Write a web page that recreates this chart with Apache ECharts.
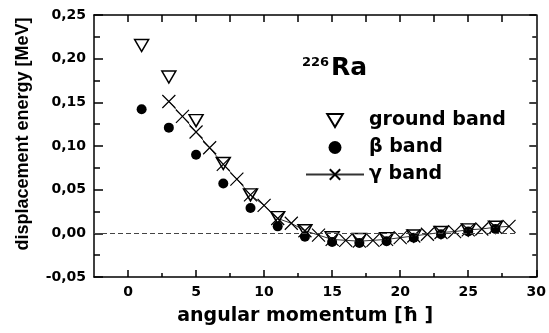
<!DOCTYPE html>
<html>
<head>
<meta charset="utf-8">
<script src="https://cdn.jsdelivr.net/npm/echarts@6/dist/echarts.min.js"></script>
<style>
  html, body { margin: 0; padding: 0; background: #fff; }
  #chart { width: 549px; height: 333px; }
</style>
</head>
<body>
<div id="chart"></div>
<script>
// angular momentum values for each band
const groundSpins = [1, 3, 5, 7, 9, 11, 13, 15, 17, 19, 21, 23, 25, 27]
const groundEnergy = [0.215, 0.179, 0.129, 0.080, 0.044, 0.018, 0.003, -0.005, -0.007, -0.006, -0.003, 0.001, 0.004, 0.007]

const betaSpins = [1, 3, 5, 7, 9, 11, 13, 15, 17, 19, 21, 23, 25, 27]
const betaEnergy = [0.142, 0.121, 0.090, 0.057, 0.029, 0.008, -0.004, -0.010, -0.011, -0.009, -0.005, -0.001, 0.002, 0.005]

const gammaSpins = [3, 4, 5, 6, 7, 8, 9, 10, 11, 12, 13, 14, 15, 16, 17, 18, 19, 20, 21, 22, 23, 24, 25, 26, 27, 28]
const gammaEnergy = [0.151, 0.134, 0.116, 0.098, 0.079, 0.062, 0.044, 0.032, 0.017, 0.0115, 0.003, -0.002, -0.007, -0.008, -0.009, -0.008, -0.007, -0.005, -0.003, -0.001, 0.001, 0.002, 0.004, 0.005, 0.007, 0.008]

const xLabels = [0, 5, 10, 15, 20, 25, 30]
const xMinorTicks = [2.5, 7.5, 12.5, 17.5, 22.5, 27.5]
const xTopTicks = [0, 2.5, 5, 7.5, 10, 12.5, 15, 17.5, 20, 22.5, 25, 27.5]
const yLabels = [-0.05, 0, 0.05, 0.1, 0.15, 0.2, 0.25]
const yMinorTicks = [-0.025, 0.025, 0.075, 0.125, 0.175, 0.225]

const zeroLineEnd = 28.6

const chart = echarts.init(document.getElementById('chart'))

const black = '#000'
const tickFont = { fontFamily: 'DejaVu Sans', fontWeight: 'bold', fontSize: 14, color: black }
const lineOn = { show: true, onZero: false, lineStyle: { color: black, width: 1.5 } }
const lineOff = { show: false, onZero: false }

function ticks(values, length) {
  return { show: true, inside: true, length, customValues: values, lineStyle: { color: black, width: 1.5 } }
}

// extra axes that only carry ticks
function tickAxis(position, values, length, range) {
  return {
    type: 'value', position, min: range[0], max: range[1],
    axisLine: lineOff,
    axisTick: ticks(values, length),
    axisLabel: { show: false },
    splitLine: { show: false }
  }
}

function pair(xs, ys) {
  return xs.map((x, i) => [x, ys[i]])
}

const crossPath = 'path://M0,0L10,10M10,0L0,10'
const triPath = 'path://M0,0L12,0L6,10Z'
const xRange = [-2.5, 30]
const yRange = [-0.05, 0.25]

chart.setOption({
  animation: false,
  backgroundColor: '#fff',
  grid: { left: 94, right: 8, top: 15, bottom: 56 },
  xAxis: [
    {
      type: 'value', position: 'bottom', min: xRange[0], max: xRange[1],
      axisLine: lineOn,
      axisTick: ticks(xLabels, 7),
      axisLabel: { ...tickFont, margin: 8, customValues: xLabels },
      splitLine: { show: false },
      name: 'angular momentum [ħ ]',
      nameLocation: 'middle',
      nameGap: 30,
      nameTextStyle: { fontFamily: 'DejaVu Sans', fontWeight: 'bold', fontSize: 19, color: black, padding: [0, 20, 0, 0] }
    },
    tickAxis('bottom', xMinorTicks, 4, xRange),
    {
      type: 'value', position: 'top', min: xRange[0], max: xRange[1],
      axisLine: lineOn,
      axisTick: ticks(xTopTicks, 7),
      axisLabel: { show: false },
      splitLine: { show: false }
    }
  ],
  yAxis: [
    {
      type: 'value', position: 'left', min: yRange[0], max: yRange[1],
      axisLine: lineOn,
      axisTick: ticks(yLabels, 9),
      axisLabel: {
        ...tickFont, margin: 8, customValues: yLabels,
        formatter: (v) => v.toFixed(2).replace('.', ',')
      },
      splitLine: { show: false },
      name: 'displacement energy [MeV]',
      nameLocation: 'middle',
      nameGap: 62,
      nameTextStyle: { fontFamily: 'Liberation Sans', fontWeight: 'bold', fontSize: 18, color: black, padding: [0, 0, 0, 24] }
    },
    tickAxis('left', yMinorTicks, 6, yRange),
    {
      type: 'value', position: 'right', min: yRange[0], max: yRange[1],
      axisLine: lineOn,
      axisTick: ticks(yLabels, 7),
      axisLabel: { show: false },
      splitLine: { show: false }
    },
    tickAxis('right', yMinorTicks, 4, yRange)
  ],
  legend: {
    orient: 'vertical',
    left: 300,
    top: 106,
    itemWidth: 58,
    itemHeight: 13,
    itemGap: 8,
    data: ['ground band', 'β band', 'γ band'],
    textStyle: { fontFamily: 'DejaVu Sans', fontWeight: 'bold', fontSize: 19, color: black }
  },
  graphic: [
    {
      type: 'text', left: 302, top: 56,
      style: { text: '226', font: 'bold 13px "DejaVu Sans"', fill: black }
    },
    {
      type: 'text', left: 331, top: 56,
      style: { text: 'Ra', font: 'bold 25px "DejaVu Sans"', fill: black }
    }
  ],
  series: [
    {
      name: 'γ band',
      type: 'line',
      data: pair(gammaSpins, gammaEnergy),
      symbol: crossPath,
      symbolSize: 13,
      showAllSymbol: true,
      lineStyle: { color: '#333', width: 1 },
      itemStyle: { color: black, borderColor: black, borderWidth: 1.2 },
      markLine: {
        silent: true,
        symbol: 'none',
        label: { show: false },
        lineStyle: { color: '#444', width: 1, type: [5, 3] },
        data: [[{ coord: [xRange[0], 0] }, { coord: [zeroLineEnd, 0] }]]
      },
      z: 3
    },
    {
      name: 'ground band',
      type: 'scatter',
      data: pair(groundSpins, groundEnergy),
      symbol: triPath,
      symbolSize: [14, 12],
      itemStyle: { color: 'rgba(0,0,0,0)', borderColor: black, borderWidth: 1.5, opacity: 1 },
      z: 4
    },
    {
      name: 'β band',
      type: 'scatter',
      data: pair(betaSpins, betaEnergy),
      symbol: 'circle',
      symbolSize: 10,
      itemStyle: { color: black, opacity: 1 },
      z: 2
    }
  ]
})
</script>
</body>
</html>
